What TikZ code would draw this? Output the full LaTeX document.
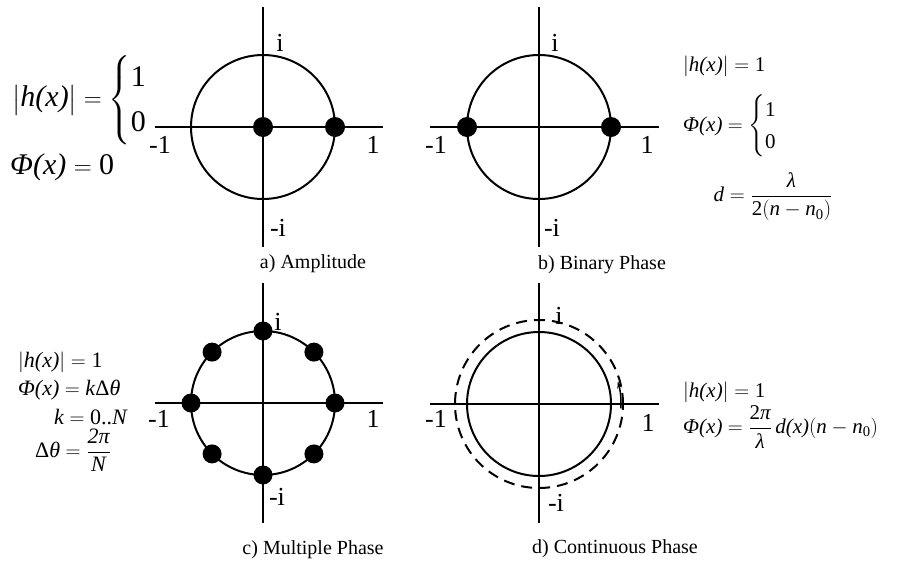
\documentclass[tikz,border=0pt]{standalone}
\usepackage{amsmath}
\usepackage{fontspec}
\setmainfont{Liberation Serif}
\usetikzlibrary{arrows.meta}
\newcommand\ti[1]{\textit{#1}}
\begin{document}
\begin{tikzpicture}[x=1pt,y=1pt,
 axis/.style={line width=2.4pt},
 ring/.style={circle,draw,line width=2pt,minimum size=144pt,inner sep=0pt,outer sep=0pt},
 dashring/.style={circle,draw,line width=2pt,dash pattern=on 11pt off 7pt,minimum size=168pt,inner sep=0pt,outer sep=0pt},
 dot/.style={circle,fill,minimum size=20pt,inner sep=0pt},
 lab/.style={font=\fontsize{26}{30}\selectfont,inner sep=0pt},
 capt/.style={font=\fontsize{20}{24}\selectfont,inner sep=0pt},
 eqbig/.style={font=\fontsize{30}{36}\selectfont,inner sep=0pt},
 eq/.style={font=\fontsize{21}{25}\selectfont,inner sep=0pt},
 eqc/.style={font=\fontsize{22}{26}\selectfont,inner sep=0pt}]
\useasboundingbox (0,0) rectangle (901,-560);

% ---------- panel a ----------
\coordinate (aT) at (263,-7);   \coordinate (aB) at (263,-247);
\coordinate (aL) at (155,-127); \coordinate (aR) at (383,-127);
\draw[axis] (aT) -- (aB);
\draw[axis] (aL) -- (aR);
\node[ring] (ca) at (263,-127) {};
\node[dot] (a0) at (ca.center) {};
\node[dot] (a1) at (ca.east) {};
\node[lab] (ai)  at (280,-43)  {i};
\node[lab] (ami) at (278,-228) {-i};
\node[lab] (am1) at (160,-145) {-1};
\node[lab] (ap1) at (373,-145) {1};
\node[capt] (capa) at (313,-264) {a) Amplitude};
\node[eqbig,anchor=west] (ea1) at (12,-100)
 {$\left|\ti{h(x)}\right|=\left\{\renewcommand\arraystretch{1.25}\begin{array}{@{}l@{}}\text{1}\\\text{0}\end{array}\right.$};
\node[eqbig,anchor=west] (ea2) at (10,-167) {\ti{Φ(x)} $=$ 0};

% ---------- panel b ----------
\coordinate (bT) at (539,-7);   \coordinate (bB) at (539,-247);
\coordinate (bL) at (430,-127); \coordinate (bR) at (659,-127);
\draw[axis] (bT) -- (bB);
\draw[axis] (bL) -- (bR);
\node[ring] (cb) at (539,-127) {};
\node[dot] (b0) at (cb.west) {};
\node[dot] (b1) at (cb.east) {};
\node[lab] (bi)  at (555,-43)  {i};
\node[lab] (bmi) at (552,-228) {-i};
\node[lab] (bm1) at (436,-145) {-1};
\node[lab] (bp1) at (647,-145) {1};
\node[capt] (capb) at (602,-265) {b) Binary Phase};
\node[eq,anchor=west] (eb1) at (683,-66) {$\left|\ti{h(x)}\right|=\text{1}$};
\node[eq,anchor=west] (eb2) at (683,-126)
 {\ti{Φ(x)} $=\left\{\renewcommand\arraystretch{1.3}\begin{array}{@{}l@{}}\text{1}\\\text{0}\end{array}\right.$};
\node[eq] (eb3) at (773,-197) {$\ti{d}=\dfrac{\ti{λ}}{\text{2}(\ti{n}-\ti{n}_{\text{0}})}$};

% ---------- panel c ----------
\coordinate (cT) at (263,-283); \coordinate (cB) at (263,-523);
\coordinate (cL) at (155,-403); \coordinate (cR) at (383,-403);
\draw[axis] (cT) -- (cB);
\draw[axis] (cL) -- (cR);
\node[ring] (cc) at (263,-403) {};
\foreach \a in {0,45,...,315}
  \node[dot,minimum size=19pt] (c\a) at (cc.\a) {};
\node[lab] (ci)  at (278,-322) {i};
\node[lab] (cmi) at (277,-497) {-i};
\node[lab] (cm1) at (159,-419) {-1};
\node[lab] (cp1) at (373,-419) {1};
\node[capt] (capc) at (313,-550) {c) Multiple Phase};
\node[eqc,anchor=west] (ec1) at (18,-362) {$\left|\ti{h(x)}\right|=\text{1}$};
\node[eqc,anchor=west] (ec2) at (18,-390) {\ti{Φ(x)} $=$ \ti{k}Δ\ti{θ}};
\node[eqc,anchor=east] (ec3) at (128,-417) {\ti{k} $=$ 0..\ti{N}};
\node[eqc,anchor=west] (ec4) at (35,-450) {Δ\ti{θ} $=\dfrac{\ti{2π}}{\ti{N}}$};

% ---------- panel d ----------
\coordinate (dT) at (539,-283); \coordinate (dB) at (539,-523);
\coordinate (dL) at (430,-404); \coordinate (dR) at (659,-404);
\draw[axis] (dT) -- (dB);
\draw[axis] (dL) -- (dR);
\node[ring] (cd) at (539,-404) {};
\node[dashring] (cd2) at (539,-404) {};
\coordinate (arS) at ([shift={(-3:82pt)}]cd.center);
\draw[line width=1.5pt,-{Stealth[length=7pt,width=5pt]}] (arS) arc[start angle=-3,end angle=16,radius=82pt];
\node[lab] (di)  at (559,-316) {i};
\node[lab] (dmi) at (556,-503) {-i};
\node[lab] (dm1) at (436,-419) {-1};
\node[lab] (dp1) at (648,-423) {1};
\node[capt] (capd) at (615,-549) {d) Continuous Phase};
\node[eq,anchor=west] (ed1) at (683,-392) {$\left|\ti{h(x)}\right|=\text{1}$};
\node[eq,anchor=west] (ed2) at (683,-427)
 {\ti{Φ(x)} $=\dfrac{\text{2}\ti{π}}{\ti{λ}}\,\ti{d(x)}(\ti{n}-\ti{n}_{\text{0}})$};
\end{tikzpicture}
\end{document}
